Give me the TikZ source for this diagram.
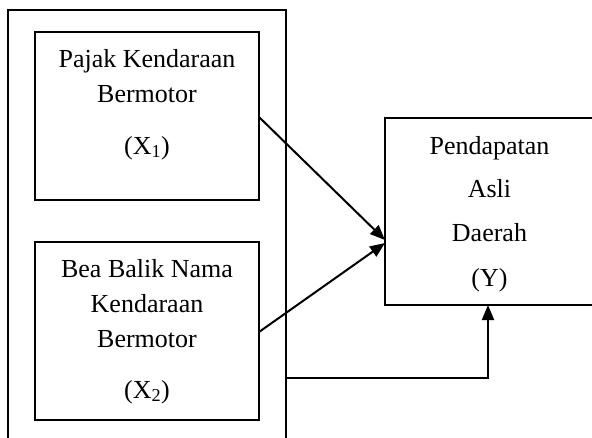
\documentclass[tikz,border=0pt]{standalone}
\usepackage{fontspec}
\setmainfont{Liberation Serif}
\usetikzlibrary{arrows.meta}
\begin{document}
\begin{tikzpicture}[x=1pt,y=-1pt,
  varbox/.style={draw,line width=2pt,inner sep=0pt},
  lbl/.style={anchor=base,inner sep=0pt,font=\fontsize{26}{30}\selectfont},
  conn/.style={line width=2pt,-{Triangle[length=15pt,width=12pt]}},
  outerline/.style={line width=1.3pt}]
\useasboundingbox (0,0) rectangle (592,437);
% outer container (open at bottom)
\draw[outerline] (8,445) -- (8,10) -- (286,10) -- (286,445);
\coordinate (oright) at (286,378);
% boxes
\node[varbox,minimum width=224pt,minimum height=168pt] (x1) at (147,116) {};
\node[varbox,minimum width=224pt,minimum height=178pt] (x2) at (147,331) {};
\node[varbox,minimum width=220pt,minimum height=187pt] (y) at (495,211.5) {};
% labels X1
\node[lbl] (x1a) at (147,67) {Pajak Kendaraan};
\node[lbl] (x1b) at (147,102) {Bermotor};
\node[lbl] (x1c) at (147,154) {(X\textsubscript{1})};
% labels X2
\node[lbl] (x2a) at (147,277) {Bea Balik Nama};
\node[lbl] (x2b) at (147,312) {Kendaraan};
\node[lbl] (x2c) at (147,347) {Bermotor};
\node[lbl] (x2d) at (147,398) {(X\textsubscript{2})};
% labels Y
\node[lbl] (ya) at (489.5,154) {Pendapatan};
\node[lbl] (yb) at (489.5,197) {Asli};
\node[lbl] (yc) at (489.5,241) {Daerah};
\node[lbl] (yd) at (489.5,286) {(Y)};
% connectors
\coordinate (x1out) at (259,117);
\coordinate (x2out) at (259,332);
\coordinate (yin1) at (385,240);
\coordinate (yin2) at (385,243);
\coordinate (ybot) at (488,305);
\draw[conn] (x1out) -- (yin1);
\draw[conn] (x2out) -- (yin2);
\draw[conn] (oright) -| (ybot);
\end{tikzpicture}
\end{document}
